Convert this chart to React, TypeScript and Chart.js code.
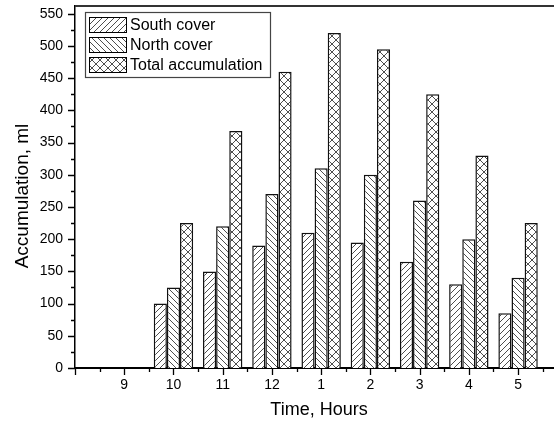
import React, { useEffect, useRef } from 'react';
import { Chart, registerables } from 'chart.js';

Chart.register(...registerables);

const categories = ['9', '10', '11', '12', '1', '2', '3', '4', '5'];
const southCover = [null, 100, 150, 190, 210, 195, 165, 130, 85];
const northCover = [null, 125, 220, 270, 310, 300, 260, 200, 140];
const totalAccumulation = [null, 225, 368, 460, 520, 495, 425, 330, 225];
const seriesNames = ['South cover', 'North cover', 'Total accumulation'];
const xTitle = 'Time, Hours';
const yTitle = 'Accumulation, ml';
const firstPos = 9;
const xMin = 8;
const xMax = 17.73;
const yMin = 0;
const yMax = 562;

const FONT = "'Liberation Sans', Arial, sans-serif";

function makePattern(kind: string): CanvasPattern | string {
  const s = kind === 'cross' ? 8 : 6;
  const c = document.createElement('canvas');
  c.width = s;
  c.height = s;
  const g = c.getContext('2d');
  if (!g) return '#fff';
  g.fillStyle = '#fff';
  g.fillRect(0, 0, s, s);
  g.strokeStyle = '#3a3a3a';
  g.lineWidth = 0.9;
  const fwd = () => {
    g.beginPath();
    g.moveTo(-1, s + 1); g.lineTo(s + 1, -1);
    g.moveTo(-1, 1); g.lineTo(1, -1);
    g.moveTo(s - 1, s + 1); g.lineTo(s + 1, s - 1);
    g.stroke();
  };
  const back = () => {
    g.beginPath();
    g.moveTo(-1, -1); g.lineTo(s + 1, s + 1);
    g.moveTo(s - 1, -1); g.lineTo(s + 1, 1);
    g.moveTo(-1, s - 1); g.lineTo(1, s + 1);
    g.stroke();
  };
  if (kind === 'fwd') fwd();
  else if (kind === 'back') back();
  else { fwd(); back(); }
  return g.createPattern(c, 'repeat') || '#fff';
}

const decorPlugin = {
  id: 'decor',
  afterDraw(chart: any) {
    const { ctx, chartArea: a, scales } = chart;
    const x = scales.x;
    const y = scales.y;
    ctx.save();
    // top frame line
    ctx.strokeStyle = '#333';
    ctx.lineWidth = 2;
    ctx.beginPath();
    ctx.moveTo(a.left, a.top);
    ctx.lineTo(a.right, a.top);
    ctx.stroke();
    // ticks (major at scale ticks, minor halfway)
    ctx.strokeStyle = '#000';
    ctx.lineWidth = 1.3;
    ctx.beginPath();
    for (const t of x.ticks) {
      const v = t.value;
      const px = Math.round(x.getPixelForValue(v)) + 0.5;
      ctx.moveTo(px, a.bottom);
      ctx.lineTo(px, a.bottom + 7);
      const mid = x.getPixelForValue(v + 0.5);
      if (mid <= a.right) {
        const pm = Math.round(mid) + 0.5;
        ctx.moveTo(pm, a.bottom);
        ctx.lineTo(pm, a.bottom + 4);
      }
    }
    for (const t of y.ticks) {
      const py = Math.round(y.getPixelForValue(t.value)) + 0.5;
      const major = t.value % 50 === 0;
      ctx.moveTo(a.left, py);
      ctx.lineTo(a.left - (major ? 7 : 4), py);
    }
    ctx.stroke();

    // axis titles
    ctx.fillStyle = '#000';
    ctx.textAlign = 'center';
    ctx.textBaseline = 'middle';
    ctx.font = `18px ${FONT}`;
    ctx.fillText(xTitle, 319, 410);
    ctx.save();
    ctx.translate(23, 196);
    ctx.rotate(-Math.PI / 2);
    ctx.font = `19px ${FONT}`;
    ctx.fillText(yTitle, 0, 0);
    ctx.restore();

    // legend
    const lx = a.left + 10;
    const ly = a.top + 6;
    const lw = 185;
    const lh = 65;
    ctx.strokeStyle = '#444';
    ctx.lineWidth = 1.2;
    ctx.strokeRect(lx + 0.5, ly + 0.5, lw, lh);
    ctx.font = `16px ${FONT}`;
    ctx.textBaseline = 'middle';
    ctx.textAlign = 'left';
    chart.data.datasets.forEach((ds: any, i: number) => {
      const sy = ly + 5 + i * 20;
      ctx.fillStyle = ds.backgroundColor;
      ctx.fillRect(lx + 4, sy, 37, 15);
      ctx.strokeStyle = '#000';
      ctx.lineWidth = 1;
      ctx.strokeRect(lx + 4.5, sy + 0.5, 37, 15);
      ctx.fillStyle = '#000';
      ctx.fillText(ds.label, lx + 45, sy + 8.5);
    });
    ctx.restore();
  },
};

export default function App() {
  const ref = useRef<HTMLCanvasElement | null>(null);
  useEffect(() => {
    if (!ref.current) return;
    const patterns = [makePattern('fwd'), makePattern('back'), makePattern('cross')];
    const seriesValues = [southCover, northCover, totalAccumulation];
    const chart = new Chart(ref.current, {
      type: 'bar',
      data: {
        datasets: seriesValues.map((vals, i) => ({
          label: seriesNames[i],
          data: vals.map((v, j) => ({ x: firstPos + j, y: v })),
          backgroundColor: patterns[i] as any,
          borderColor: '#111',
          borderWidth: 1.5,
          categoryPercentage: 0.8,
          barPercentage: 1.0,
        })),
      },
      plugins: [decorPlugin],
      options: {
        animation: false,
        responsive: true,
        maintainAspectRatio: false,
        layout: { padding: { top: 6, left: 0, right: 0, bottom: 0 } },
        plugins: { legend: { display: false }, tooltip: { enabled: false } },
        scales: {
          x: {
            type: 'linear',
            offset: false,
            min: xMin,
            max: xMax,
            grid: { display: false, drawTicks: false, tickLength: 0 },
            border: { display: true, color: '#000', width: 2 },
            ticks: {
              stepSize: 1,
              includeBounds: false,
              autoSkip: false,
              maxRotation: 0,
              padding: 9,
              color: '#000',
              font: { family: FONT, size: 14 },
              callback: (v: any) => {
                const n = Number(v);
                const idx = Math.round(n) - firstPos;
                return idx >= 0 && idx < categories.length ? categories[idx] : '';
              },
            },
            title: { display: false },
            afterFit: (s: any) => {
              s.height = 59;
              s.paddingLeft = 0;
              s.paddingRight = 0;
            },
          } as any,
          y: {
            type: 'linear',
            min: yMin,
            max: yMax,
            grid: { display: false, drawTicks: false, tickLength: 0 },
            border: { display: true, color: '#000', width: 1.5 },
            ticks: {
              stepSize: 25,
              includeBounds: false,
              autoSkip: false,
              padding: 12,
              color: '#000',
              font: { family: FONT, size: 14 },
              callback: (v: any) => (Number(v) % 50 === 0 ? String(v) : ''),
            },
            title: { display: false },
            afterFit: (s: any) => {
              s.width = 75;
              s.paddingTop = 0;
              s.paddingBottom = 0;
            },
          } as any,
        },
      },
    });
    return () => chart.destroy();
  }, []);
  return (
    <div style={{ position: 'absolute', left: 0, top: 0, width: 554, height: 427 }}>
      <canvas ref={ref} />
    </div>
  );
}
